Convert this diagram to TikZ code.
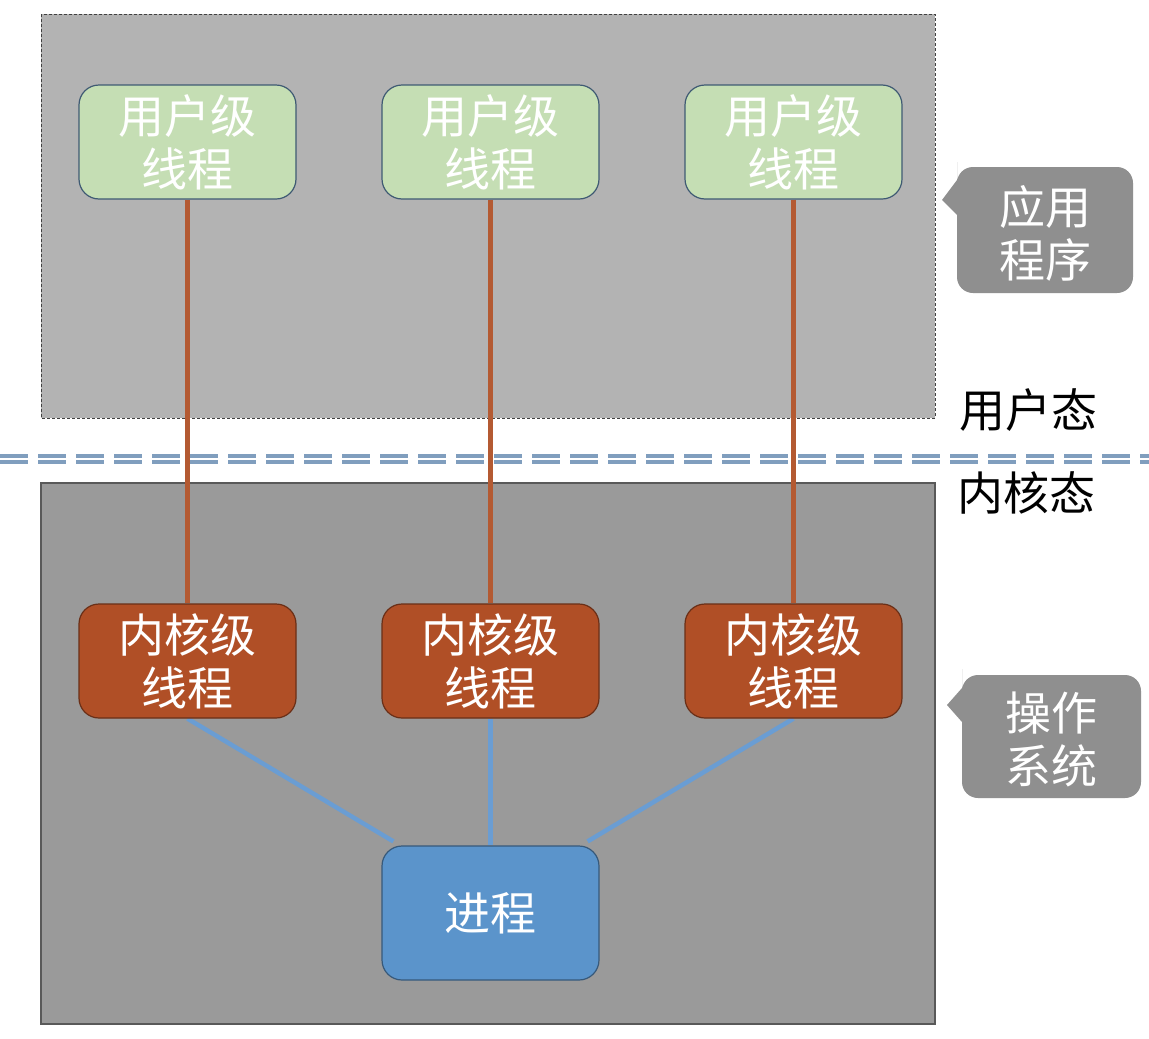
\documentclass[tikz,border=0pt]{standalone}
\usepackage{fontspec}
\newfontfamily\cjk{Noto Sans CJK SC}
\definecolor{upbg}{HTML}{B3B3B3}
\definecolor{lowbg}{HTML}{9A9A9A}
\definecolor{greenf}{HTML}{C5DEB4}
\definecolor{brownf}{HTML}{B04F26}
\definecolor{bluef}{HTML}{5B94CB}
\definecolor{calloutf}{HTML}{8F8F8F}
\definecolor{brownl}{HTML}{B45A32}
\definecolor{bluel}{HTML}{6A9DD3}
\definecolor{sepl}{HTML}{809EBE}
\definecolor{gborder}{HTML}{3F5A73}
\pgfdeclarelayer{bg}
\pgfdeclarelayer{conn}
\pgfsetlayers{bg,conn,main}
\tikzset{
  box/.style={rounded corners=20pt, minimum width=217pt, minimum height=114pt, inner sep=0pt,
    align=center, font=\cjk\fontsize{46}{53}\selectfont, text=white, line width=1.2pt},
  uthread/.style={box, fill=greenf, draw=gborder},
  kthread/.style={box, fill=brownf, draw=brownf!60!black},
  proc/.style={box, fill=bluef, draw=bluef!60!black, minimum height=134pt},
  lbl/.style={font=\cjk\fontsize{46}{53}\selectfont, inner sep=0pt, align=center},
  clbl/.style={lbl, text=white},
  callout/.style={fill=calloutf, draw=none, rounded corners=16pt},
  uline/.style={draw=brownl, line width=4.5pt},
  kline/.style={draw=bluel, line width=4.5pt},
  sep/.style={draw=sepl, line width=4pt, dash pattern=on 28pt off 10pt}
}
\begin{document}
\begin{tikzpicture}[x=1pt,y=-1pt]
\useasboundingbox (0,0) rectangle (1149,1039);
\begin{pgfonlayer}{bg}
\fill[white] (0,0) rectangle (1149,1039);
\draw[fill=upbg, draw=black!75, line width=1pt, dash pattern=on 3pt off 2pt] (41,14) rectangle (935,418);
\draw[fill=lowbg, draw=black!65, line width=1.2pt] (41,483) rectangle (935,1024);
\draw[sep] (0,455.5) -- (1149,455.5);
\draw[sep] (0,462) -- (1149,462);
\end{pgfonlayer}
% nodes
\node[uthread] (u1) at (187.5,142) {用户级\\线程};
\node[uthread] (u2) at (490.5,142) {用户级\\线程};
\node[uthread] (u3) at (793.5,142) {用户级\\线程};
\node[kthread] (k1) at (187.5,661) {内核级\\线程};
\node[kthread] (k2) at (490.5,661) {内核级\\线程};
\node[kthread] (k3) at (793.5,661) {内核级\\线程};
\node[proc] (p) at (490.5,913) {进程};
% connectors
\begin{pgfonlayer}{conn}
\draw[uline] (u1.south) -- (k1.north);
\draw[uline] (u2.south) -- (k2.north);
\draw[uline] (u3.south) -- (k3.north);
\draw[kline] (k1.south) -- ([xshift=12pt,yshift=4pt]p.north west);
\draw[kline] (k2.south) -- (p.north);
\draw[kline] (k3.south) -- ([xshift=-12pt,yshift=4pt]p.north east);
\end{pgfonlayer}
% callouts
\fill[callout] (957,215) -- (957,293) -- (1133,293) -- (1133,167) -- (957,167) -- (957,178) [sharp corners] -- (957,180) -- (942,200) -- (957,215) -- cycle;
\node[clbl] (c1) at (1045,233) {应用\\程序};
\fill[callout] (962,722) -- (962,798) -- (1141,798) -- (1141,675) -- (962,675) -- (962,685) [sharp corners] -- (962,688) -- (947,705) -- (962,722) -- cycle;
\node[clbl] (c2) at (1051,739) {操作\\系统};
% state labels
\node[lbl] (us) at (1028,410) {用户态};
\node[lbl] (ks) at (1026,493) {内核态};
\end{tikzpicture}
\end{document}
